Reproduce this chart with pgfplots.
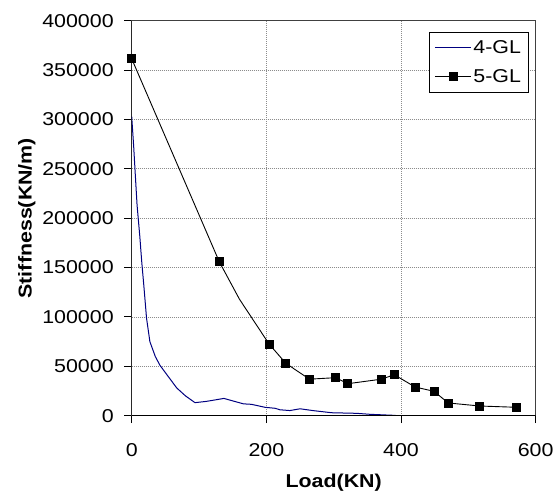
\documentclass[border=0pt]{standalone}
\usepackage{fontspec}
\setmainfont{Liberation Sans}[FakeStretch=1.15]
\usepackage{pgfplots}
\pgfplotsset{compat=1.18}
\definecolor{navyline}{RGB}{0,0,128}
\begin{document}
\begin{tikzpicture}[x=1pt,y=1pt]
\path[use as bounding box] (0,0) rectangle (554,494);
\begin{axis}[
  at={(131.7pt,78.3pt)}, anchor=origin,
  scale only axis, width=404pt, height=395pt,
  xmin=0, xmax=600, ymin=0, ymax=400000,
  xtick={0,200,400,600},
  ytick={0,50000,100000,150000,200000,250000,300000,350000,400000},
  scaled y ticks=false,
  /pgf/number format/fixed,
  /pgf/number format/1000 sep={},
  /pgf/number format/assume math mode=true,
  tick align=outside, xtick pos=left, ytick pos=left,
  major tick length=7.5pt,
  tick style={black, line width=0.9pt},
  every tick label/.append style={font=\fontsize{18.6}{20}\selectfont},
  xticklabel style={yshift=-17pt},
  yticklabel style={xshift=-7pt},
  grid=major,
  grid style={black!45, line width=0.8pt, dash pattern=on 1pt off 1pt},
  axis line style={draw=black!75, line width=1pt},
  xlabel={\bfseries Load(KN)},
  ylabel={\bfseries Stiffness(KN/m)},
  label style={font=\fontsize{18.6}{20}\selectfont},
  xlabel style={yshift=-10pt},
  ylabel style={yshift=0pt},
  legend style={at={(0.982,0.972)}, anchor=north east, draw=black, line width=0.8pt,
    font=\fontsize{18.6}{20}\selectfont, row sep=11pt, inner xsep=5pt, inner ysep=6pt,
    legend cell align=left},
  legend image code/.code={
    \draw[#1] (0pt,0pt) -- (36pt,0pt);
    \draw[#1, only marks] plot coordinates {(18pt,0pt)};
  },
]
\addplot[navyline, line width=1pt, no marks] coordinates {
(0,303000) (3,272000) (5,248000) (8,213000) (12,182000) (15,155000)
(18,132000) (22,99000) (27,75000) (35,60000) (42,51000) (55,39000)
(67,28000) (80,20000) (94,13200) (111,14500) (137,17500) (150,15000)
(166,12000) (178,11500) (198,8500) (213,7500) (220,6000) (235,5200)
(250,7000) (270,5100) (297,3000) (334,2400) (354,1400) (392,300)
};
\addlegendentry{4-GL}
\addplot[black, line width=0.9pt, mark=square*, mark size=4pt,
  mark options={solid, fill=black},
  mark indices={1,2,4,5,6,7,8,9,10,11,12,13,14,15}] coordinates {
(0,361500) (130,156000) (160,118000) (204,72600) (229,53000) (264,37000)
(303,38500) (321,32400) (371,37000) (390,41500) (421,29000) (449,24700)
(470,12900) (517,9800) (572,8500)
};
\addlegendentry{5-GL}
\draw[black, line width=1.4pt] (rel axis cs:0,1) -- (rel axis cs:0,0) -- (rel axis cs:1,0);
\end{axis}
\end{tikzpicture}
\end{document}
